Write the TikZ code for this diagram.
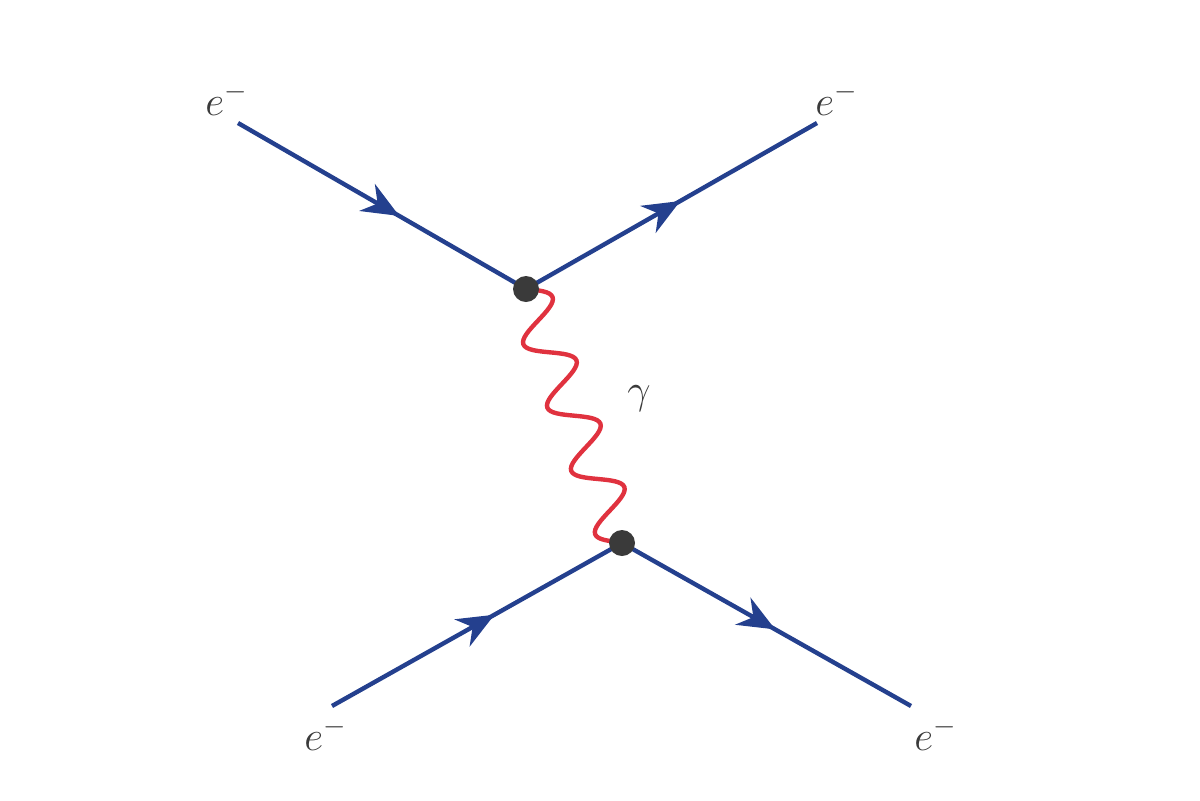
\documentclass[tikz,border=0pt]{standalone}
\usepackage{tikz}
\usetikzlibrary{arrows.meta,decorations.pathmorphing,decorations.markings}
\definecolor{fermblue}{HTML}{24408E}
\definecolor{photred}{HTML}{E0323F}
\definecolor{vtxgray}{HTML}{3A3A3A}
% sine wave, one full period per segment
\pgfdeclaredecoration{photonwave}{initial}{
  \state{initial}[switch if less than=\pgfdecorationsegmentlength to final,
    width=\pgfdecorationsegmentlength]{
    \pgfpathsine{\pgfpoint{0.25\pgfdecorationsegmentlength}{\pgfdecorationsegmentamplitude}}
    \pgfpathcosine{\pgfpoint{0.25\pgfdecorationsegmentlength}{-\pgfdecorationsegmentamplitude}}
    \pgfpathsine{\pgfpoint{0.25\pgfdecorationsegmentlength}{-\pgfdecorationsegmentamplitude}}
    \pgfpathcosine{\pgfpoint{0.25\pgfdecorationsegmentlength}{\pgfdecorationsegmentamplitude}}
  }
  \state{final}{\pgfpathlineto{\pgfpointdecoratedpathlast}}
}
\tikzset{
  fermion/.style = {draw=fermblue, line width=2.2pt, postaction={decorate},
    decoration={markings, mark=at position #1 with
      {\arrow{Stealth[length=18.5pt,width=15.5pt]}}}},% electron line, arrow on it
  fermion/.default = 0.55,
  photon/.style = {draw=photred, line width=2.2pt, line cap=round, decorate,
    decoration={photonwave, amplitude=11pt, segment length=33.85pt}},% wavy photon
  vtx/.style = {circle, fill=vtxgray, inner sep=0pt, minimum size=13pt},% vertex dot
  ptext/.style = {inner sep=0pt, text=vtxgray,
    font=\fontsize{20}{24}\selectfont}% particle labels
}

\begin{document}
\begin{tikzpicture}[x=0.5pt,y=-0.5pt]
\useasboundingbox (0,0) rectangle (1200,800);
% vertices and outer ends
\coordinate (v1) at (526,289);
\coordinate (v2) at (622,543);
\coordinate (inA) at (238,123);
\coordinate (outA) at (817,123);
\coordinate (inB) at (332,706);
\coordinate (outB) at (911,706);
% electron lines
\draw[fermion=0.56] (inA) -- (v1);
\draw[fermion=0.53] (v1) -- (outA);
\draw[fermion=0.56] (inB) -- (v2);
\draw[fermion=0.53] (v2) -- (outB);
% photon
\draw[photon] (v1) -- (v2);
\node[vtx] (dot1) at (v1) {};
\node[vtx] (dot2) at (v2) {};
% labels
\node[ptext, anchor=base west] (lblA) at (205,115) {$e^-$};
\node[ptext, anchor=base west] (lblB) at (815,115) {$e^-$};
\node[ptext, anchor=base west] (lblC) at (304,750) {$e^-$};
\node[ptext, anchor=base west] (lblD) at (914,750) {$e^-$};
\node[ptext] (lblG) at (639,399) {$\gamma$};
\end{tikzpicture}
\end{document}
